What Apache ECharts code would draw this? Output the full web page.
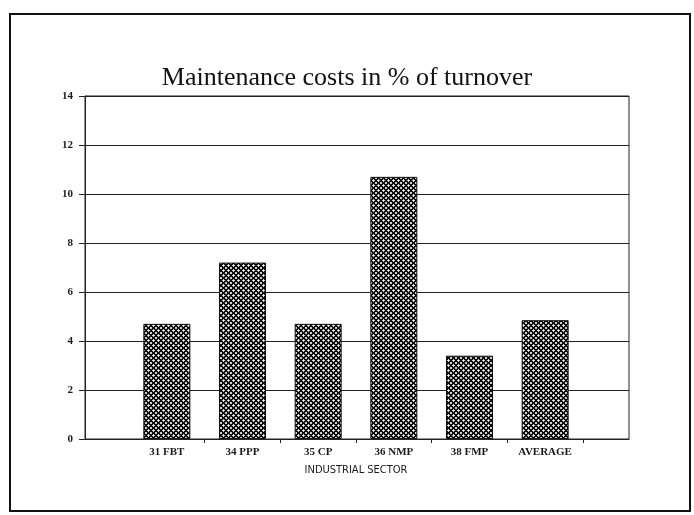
<!DOCTYPE html>
<html>
<head>
<meta charset="utf-8">
<script src="https://cdn.jsdelivr.net/npm/echarts@6/dist/echarts.min.js"></script>
<style>
  html, body { margin: 0; padding: 0; background: #ffffff; }
  #chart { width: 694px; height: 515px; }
</style>
</head>
<body>
<div id="chart"></div>
<script>
// Maintenance costs as a share of turnover, by industrial sector
const categories = ['31 FBT', '34 PPP', '35 CP', '36 NMP', '38 FMP', 'AVERAGE'];
const costShare = [4.7, 7.2, 4.7, 10.7, 3.4, 4.85];
const yMin = 0;
const yMax = 14;
const yStep = 2;

// Dense diagonal cross-hatch used as the bar fill
function makeHatch() {
  const size = 5;
  const c = document.createElement('canvas');
  c.width = size; c.height = size;
  const ctx = c.getContext('2d');
  const img = ctx.createImageData(size, size);
  for (let y = 0; y < size; y++) {
    for (let x = 0; x < size; x++) {
      const a = (x + y) % size;
      const b = (x - y + 2 * size) % size;
      const dark = a < 2 || b < 2;
      const v = dark ? 15 : (a === 3 && b === 3 ? 250 : 205);
      const i = (y * size + x) * 4;
      img.data[i] = v; img.data[i + 1] = v; img.data[i + 2] = v; img.data[i + 3] = 255;
    }
  }
  ctx.putImageData(img, 0, 0);
  return c;
}

const chart = echarts.init(document.getElementById('chart'), null, { renderer: 'canvas' });

const tickFont = { fontFamily: 'Liberation Serif', fontWeight: 'bold', fontSize: 11, color: '#1a1a1a' };

chart.setOption({
  backgroundColor: '#ffffff',
  animation: false,
  title: {
    text: 'Maintenance costs in % of turnover',
    left: 'center',
    top: 60,
    textStyle: { fontFamily: 'Liberation Serif', fontWeight: 'normal', fontSize: 26, color: '#111' }
  },
  graphic: [{
    type: 'rect',
    shape: { x: 10, y: 14, width: 680, height: 497 },
    style: { fill: null, stroke: '#111', lineWidth: 2 },
    silent: true
  }],
  grid: [
    { left: 85, right: 65, top: 96, bottom: 76, show: true, borderColor: '#222', borderWidth: 1, backgroundColor: 'transparent' },
    { left: 129, right: 111, top: 96, bottom: 76 }
  ],
  xAxis: [
    {
      type: 'value', gridIndex: 0, min: 0, max: 1,
      axisLine: { show: true, onZero: false, lineStyle: { color: '#222', width: 1 } },
      axisTick: { show: false }, axisLabel: { show: false }, splitLine: { show: false }
    },
    {
      type: 'category', gridIndex: 1, data: categories,
      axisLine: { show: false },
      axisTick: { show: true, length: 4, interval: (i) => i > 0 && i < categories.length, lineStyle: { color: '#222' } },
      axisLabel: Object.assign({ margin: 8 }, tickFont),
      name: 'INDUSTRIAL SECTOR',
      nameLocation: 'middle',
      nameGap: 26,
      nameTextStyle: { fontFamily: 'DejaVu Sans Condensed, DejaVu Sans', fontSize: 11, color: '#1a1a1a' }
    }
  ],
  yAxis: [
    {
      type: 'value', gridIndex: 0, min: yMin, max: yMax, interval: yStep,
      axisLine: { show: true, lineStyle: { color: '#222', width: 1 } },
      axisTick: { show: true, inside: false, length: 6, lineStyle: { color: '#222' } },
      axisLabel: Object.assign({ margin: 12 }, tickFont),
      splitLine: { show: true, lineStyle: { color: '#222', width: 1 } }
    },
    {
      type: 'value', gridIndex: 1, min: yMin, max: yMax, interval: yStep, show: false
    }
  ],
  series: [{
    type: 'bar',
    xAxisIndex: 1, yAxisIndex: 1,
    data: costShare,
    barWidth: 47,
    itemStyle: {
      color: { image: makeHatch(), repeat: 'repeat' },
      borderColor: '#111',
      borderWidth: 1
    }
  }]
});
</script>
</body>
</html>
